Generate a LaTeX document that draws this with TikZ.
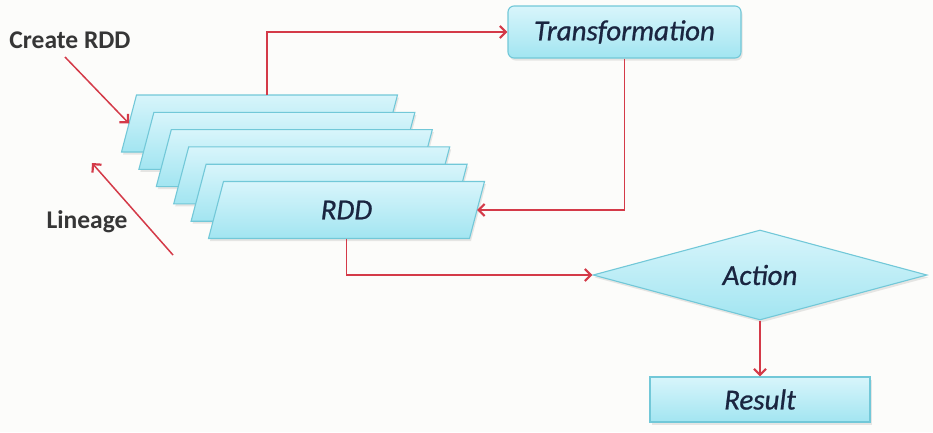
\documentclass[tikz,border=0pt]{standalone}
\usepackage{fontspec}
\setmainfont{Carlito}
\newfontface\boxface{Carlito Italic}[FakeBold=0.8]
\usetikzlibrary{shapes.geometric,arrows.meta,shadows}
\definecolor{bordc}{HTML}{72C8D8}
\definecolor{topc}{HTML}{D8F5FB}
\definecolor{botc}{HTML}{A2E5F1}
\definecolor{redc}{HTML}{D43A48}
\definecolor{txtc}{HTML}{1A2540}
\definecolor{lblc}{HTML}{363636}
\definecolor{bgc}{HTML}{FCFCFA}
\begin{document}
\begin{tikzpicture}[x=1pt,y=-1pt,
  boxfill/.style={draw=bordc, line width=1.1pt, top color=topc, bottom color=botc,
    drop shadow={opacity=0.18, shadow xshift=1.5pt, shadow yshift=-2.5pt}},
  boxtxt/.style={text=txtc, font=\fontsize{29}{32}\boxface},
  lbl/.style={text=lblc, font=\fontsize{25.5}{28}\selectfont\bfseries, inner sep=0pt},
  conn/.style={draw=redc, line width=1.5pt, -{Straight Barb[length=6pt,width=12pt,line width=2.2pt]}}]
\fill[bgc] (0,0) rectangle (933,432);
\useasboundingbox (0,0) rectangle (933,432);
% RDD stack: parallelograms, half-width 130.5, half-height 28.5, slant 7.5
\foreach \i/\cx/\cy in {1/259.5/123.5, 2/276.9/140.8, 3/294.3/158.1, 4/311.7/175.4, 5/329.1/192.7, 6/346.5/210}{
  \draw[boxfill] (\cx-123,\cy-28.5) -- (\cx+138,\cy-28.5) -- (\cx+123,\cy+28.5) -- (\cx-138,\cy+28.5) -- cycle;
  \node[inner sep=0pt] (p\i) at (\cx,\cy) {};
  \coordinate (p\i top) at (\cx+7.5,\cy-28.5);
  \coordinate (p\i bot) at (\cx,\cy+28.5);
  \coordinate (p\i left) at (\cx-130.5,\cy);
  \coordinate (p\i right) at (\cx+130.5,\cy);
}
\node[boxtxt] (rddtxt) at (p6) {RDD};
% other boxes
\node[boxfill, boxtxt, rounded corners=6pt, minimum width=233pt, minimum height=52pt, inner sep=0pt] (t) at (624.5,32) {Transformation};
\node[boxfill, boxtxt, diamond, aspect=3.7, minimum width=334pt, minimum height=90pt, inner sep=0pt] (a) at (760,275) {Action};
\node[boxfill, boxtxt, minimum width=220pt, minimum height=45pt, inner sep=0pt] (r) at (760,399.5) {Result};
% labels
\node[lbl] (lc) at (70,40) {Create RDD};
\node[lbl] (ll) at (87,222) {Lineage};
\coordinate (crt) at (65,57);
\coordinate (lin1) at (173,255);
\coordinate (lin2) at (92,163);
% connectors
\draw[conn] (p1top) |- (t.west);
\draw[conn] (t.south) |- (p6right);
\draw[conn] (p6bot) |- (a.west);
\draw[conn] (a.south) -- (r.north);
\draw[conn] (crt) -- (p1left);
\draw[conn] (lin1) -- (lin2);
\end{tikzpicture}
\end{document}
